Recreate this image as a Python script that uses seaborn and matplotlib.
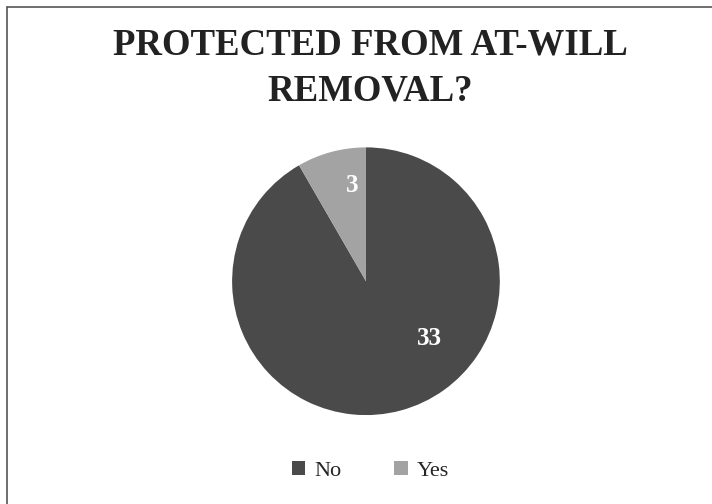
import numpy as np
import matplotlib.pyplot as plt
import seaborn as sns
from matplotlib.lines import Line2D
from matplotlib.patches import Patch

# Gegevens uit de grafiek
categories = ["No", "Yes"]
counts = [33, 3]
colors = ["#4a4a4a", "#a3a3a3"]
title = "PROTECTED FROM AT-WILL\nREMOVAL?"

sns.set_theme(style="white")
plt.rcParams["font.family"] = ["Liberation Serif", "DejaVu Serif"]

fig = plt.figure(figsize=(7.12, 5.04), dpi=100)
ax = fig.add_axes([0.326, 0.176, 0.376, 0.532])

wedges, _ = ax.pie(counts, colors=colors, startangle=90, counterclock=False,
                   wedgeprops=dict(linewidth=0))
ax.set_xlim(-1, 1)
ax.set_ylim(-1, 1)
ax.set_aspect("equal")

# waardelabels (posities zoals in het origineel)
label_pos = [(-42, 0.64), (98, 0.72)]
for val, (ang, d) in zip(counts, label_pos):
    a = np.deg2rad(ang)
    ax.text(d * np.cos(a), d * np.sin(a), str(val), color="white",
            fontsize=18, fontweight="bold", ha="center", va="center")

fig.text(0.52, 0.865, title, ha="center", va="center", fontsize=26.5,
         fontweight="bold", color="#222222", linespacing=1.4)

handles = [Patch(facecolor=c, edgecolor="none") for c in colors]
fig.legend(handles, categories, loc="center", bbox_to_anchor=(0.52, 0.065),
           ncol=2, frameon=False, fontsize=16, handlelength=0.6,
           handleheight=0.6, handletextpad=0.4, columnspacing=2.4)

# rand links en boven
fig.add_artist(Line2D([0.01, 0.01], [0, 0.986], transform=fig.transFigure,
                      color="#555555", linewidth=1.2))
fig.add_artist(Line2D([0.01, 1], [0.986, 0.986], transform=fig.transFigure,
                      color="#555555", linewidth=1.2))

fig.savefig("out.png", dpi=100)
